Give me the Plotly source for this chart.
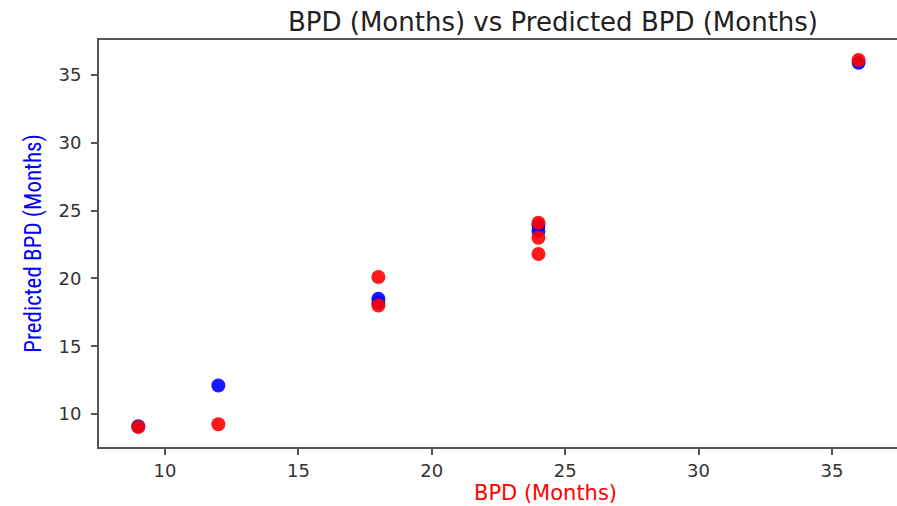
import plotly.graph_objects as go

# Data
blue_x = [9, 12, 18, 18, 24, 24, 36]
blue_y = [9.1, 12.1, 18.2, 18.5, 23.5, 23.9, 35.9]
red_x = [9, 12, 18, 18, 24, 24, 24, 36]
red_y = [9.05, 9.25, 20.1, 18.0, 21.8, 23.0, 24.1, 36.1]

x_ticks = [10, 15, 20, 25, 30, 35]
y_ticks = [10, 15, 20, 25, 30, 35]

fig = go.Figure()
fig.add_trace(go.Scatter(x=blue_x, y=blue_y, mode="markers",
                         marker=dict(color="blue", size=14, opacity=0.9, line=dict(width=0)),
                         showlegend=False))
fig.add_trace(go.Scatter(x=red_x, y=red_y, mode="markers",
                         marker=dict(color="red", size=14, opacity=0.9, line=dict(width=0)),
                         showlegend=False))

axis_common = dict(showgrid=False, zeroline=False, showline=True, mirror=True,
                   linecolor="#555555", linewidth=2, ticks="outside", ticklen=6,
                   tickcolor="#555555", tickwidth=1.5, automargin=False,
                   tickfont=dict(family="DejaVu Sans", size=18, color="#333333"))

fig.update_xaxes(range=[7.526, 37.44], tickvals=x_ticks, **axis_common)
fig.update_yaxes(range=[7.57, 37.58], tickvals=y_ticks, ticklabelstandoff=6,
                 title=dict(text="Predicted BPD (Months)",
                            font=dict(family="Liberation Sans Narrow, Roboto Condensed, Roboto", size=23, color="blue"),
                            standoff=10),
                 **axis_common)

# x-axis title (placed as in the reference, offset right of plot centre)
fig.add_annotation(text="BPD (Months)", xref="paper", yref="paper",
                   x=(545 - 99) / 798, y=-(493 - 447) / 407, xanchor="center", yanchor="middle",
                   showarrow=False, font=dict(family="DejaVu Sans", size=21, color="red"))

fig.update_layout(
    width=897, height=506,
    margin=dict(l=99, r=0, t=40, b=59, autoexpand=False),
    paper_bgcolor="white", plot_bgcolor="white",
    title=dict(text="BPD (Months) vs Predicted BPD (Months)", x=553 / 897, xanchor="center",
               y=1 - 22 / 506, yanchor="middle",
               font=dict(family="DejaVu Sans", size=26, color="#222222")),
)

fig.write_html("out.html", config={"displayModeBar": False},
               post_script="document.body.style.margin='0';document.body.style.padding='0';")
